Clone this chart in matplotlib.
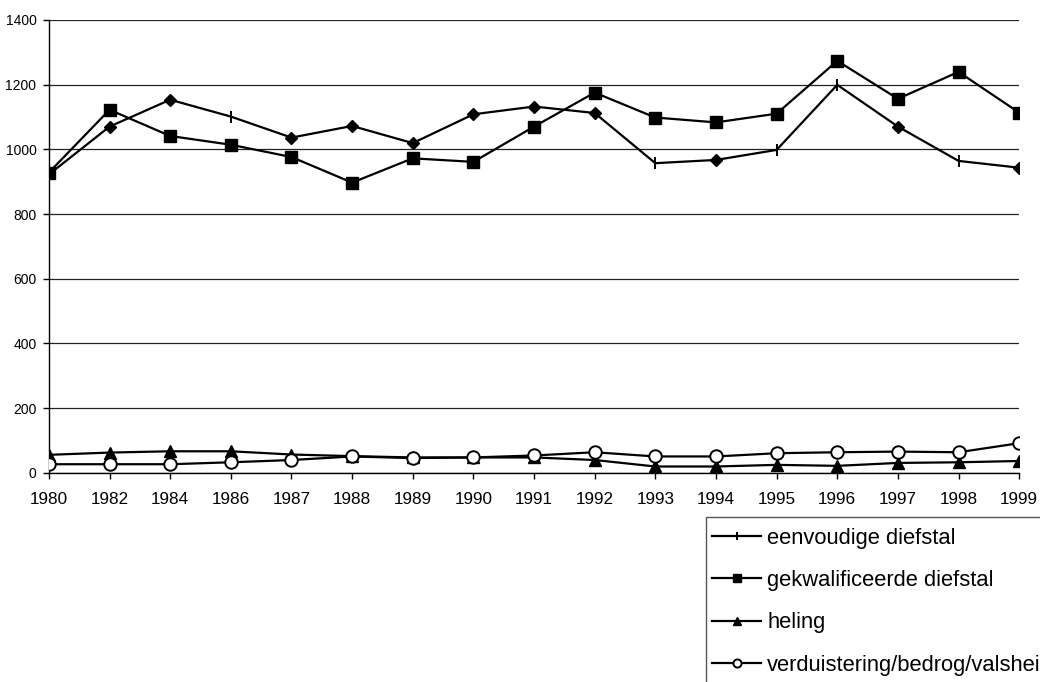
import numpy as np
import matplotlib
matplotlib.use("Agg")
import matplotlib.pyplot as plt
from matplotlib.patches import Rectangle

plt.rcParams['font.family'] = ['Liberation Sans', 'DejaVu Sans']

jaren = ['1980', '1982', '1984', '1986', '1987', '1988', '1989', '1990', '1991',
         '1992', '1993', '1994', '1995', '1996', '1997', '1998', '1999']

eenvoudig = [922, 1070, 1153, 1101, 1036, 1072, 1019, 1108, 1132, 1112,
             957, 967, 998, 1199, 1070, 964, 943]
gekwalificeerd = [928, 1122, 1041, 1014, 976, 897, 972, 961, 1070, 1175,
                  1098, 1083, 1110, 1273, 1156, 1239, 1113]
heling = [56, 63, 67, 67, 57, 52, 48, 48, 48, 40, 20, 20, 25, 22, 31, 33, 37]
verduistering = [27, 27, 27, 33, 40, 51, 46, 48, 54, 64, 51, 51, 61, 64, 66, 64, 92]

# punten waar de eerste reeks een ruit laat zien i.p.v. een streepje
ruit_idx = [1, 2, 4, 5, 6, 7, 8, 9, 11, 14, 16]
streep_idx = [0, 3, 10, 12, 13, 15]

fig = plt.figure(figsize=(10.4, 6.82), dpi=100)
ax = fig.add_axes([0.047, 0.3065, 0.933, 0.6645])

x = np.arange(len(jaren))

ax.plot(x, eenvoudig, color='black', lw=1.6, marker='|', ms=9, mew=1.4,
        markevery=streep_idx, label='eenvoudige diefstal', zorder=3)
ax.plot(x, eenvoudig, ls='none', marker='D', ms=6.5, color='black',
        markevery=ruit_idx, zorder=3)
ax.plot(x, gekwalificeerd, color='black', lw=1.6, marker='s', ms=9,
        label='gekwalificeerde diefstal', zorder=3)
ax.plot(x, heling, color='black', lw=1.6, marker='^', ms=8,
        label='heling', zorder=3)
ax.plot(x, verduistering, color='black', lw=1.6, marker='o', ms=9,
        mfc='white', mew=1.4, label='verduistering/bedrog/valsheid', zorder=4)

ax.set_xlim(0, len(jaren) - 1)
ax.set_ylim(0, 1400)
ax.set_yticks(np.arange(0, 1401, 200))
ax.set_xticks(x)
ax.set_xticklabels(jaren)
ax.tick_params(axis='y', labelsize=10, length=4, width=1, pad=5)
ax.tick_params(axis='x', labelsize=12.3, length=4, width=1, pad=10)
ax.yaxis.grid(True, color='#222222', lw=0.9)
ax.set_axisbelow(True)
ax.spines['top'].set_visible(False)
ax.spines['right'].set_visible(False)
for s in ['left', 'bottom']:
    ax.spines[s].set_linewidth(1.0)

# legenda loopt net als in het origineel over de rand van de figuur
leg = fig.legend(loc='upper left', bbox_to_anchor=(0.6846, 0.226),
                 fontsize=15.8, frameon=False,
                 handlelength=2.25, handletextpad=0.27, labelspacing=0.97,
                 borderpad=0, markerscale=0.65, borderaxespad=0)
fig.add_artist(Rectangle((0.679, -0.05), 0.4, 0.292, transform=fig.transFigure,
                         fill=False, edgecolor='#555555', lw=1.0))

fig.savefig('out.png', dpi=100)
